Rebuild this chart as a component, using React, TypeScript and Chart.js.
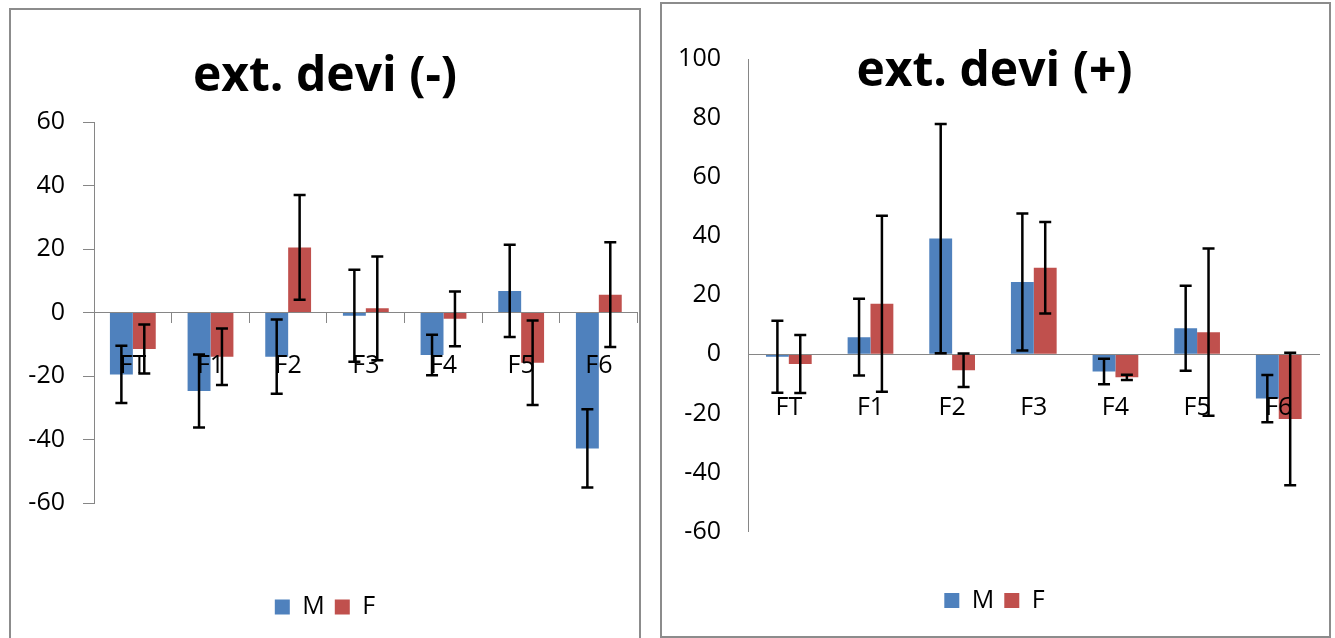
import React, { useEffect, useRef } from 'react';
import { Chart, registerables } from 'chart.js';

Chart.register(...registerables);

// ---------- data ----------
const categories = ['FT', 'F1', 'F2', 'F3', 'F4', 'F5', 'F6'];
const seriesNames = ['M', 'F'];

const minusTitle = 'ext. devi (-)';
const minusM = [-19.5, -24.7, -13.9, -1, -13.4, 6.8, -42.8];
const minusMErr = [9, 11.5, 11.7, 14.5, 6.4, 14.5, 12.3];
const minusF = [-11.5, -13.9, 20.5, 1.3, -2, -15.8, 5.6];
const minusFErr = [7.7, 8.9, 16.5, 16.3, 8.6, 13.3, 16.5];
const minusTicks = [-60, -40, -20, 0, 20, 40, 60];

const plusTitle = 'ext. devi (+)';
const plusM = [-0.8, 5.8, 39.2, 24.5, -5.8, 8.8, -15];
const plusMErr = [12.2, 13, 38.8, 23.2, 4.3, 14.4, 8];
const plusF = [-3.3, 17.1, -5.4, 29.3, -7.8, 7.5, -21.9];
const plusFErr = [9.8, 29.8, 5.7, 15.5, 0.9, 28.3, 22.4];
const plusTicks = [-60, -40, -20, 0, 20, 40, 60, 80, 100];

// ---------- style ----------
const BLUE = '#4F81BD';
const RED = '#C0504D';
const AXIS = '#868686';
const FONT = '"Open Sans", "Noto Sans", sans-serif';
const TEXT_SIZE = 25;
const TITLE_SIZE = 48;

const errorBarPlugin = {
  id: 'errorBars',
  afterDraw(chart: any, _args: any, opts: any) {
    const errs: number[][] = opts.errors || [];
    const ctx = chart.ctx;
    const yScale = chart.scales.y;
    ctx.save();
    ctx.strokeStyle = '#000';
    ctx.lineWidth = 2.5;
    chart.data.datasets.forEach((ds: any, i: number) => {
      const meta = chart.getDatasetMeta(i);
      meta.data.forEach((el: any, j: number) => {
        const v = ds.data[j];
        const e = errs[i] ? errs[i][j] : 0;
        const x = el.x;
        const y1 = yScale.getPixelForValue(v + e);
        const y2 = yScale.getPixelForValue(v - e);
        ctx.beginPath();
        ctx.moveTo(x, y1);
        ctx.lineTo(x, y2);
        ctx.moveTo(x - 6, y1);
        ctx.lineTo(x + 6, y1);
        ctx.moveTo(x - 6, y2);
        ctx.lineTo(x + 6, y2);
        ctx.stroke();
      });
    });
    ctx.restore();
  },
};

type Geom = {
  x: number; y: number; w: number; h: number;
  yWidth: number; padRight: number; padBottom: number;
  titleTop: number; titleBottom: number; legendGap: number;
  xTicks: boolean; xLabelPad: number; yTicks: boolean; yLabelPad: number;
  catPct: number;
};

function BarPanel(props: {
  title: string; m: number[]; mErr: number[]; f: number[]; fErr: number[];
  yTicks: number[]; geom: Geom;
}) {
  const ref = useRef<HTMLCanvasElement>(null);
  const { title, m, mErr, f, fErr, yTicks, geom } = props;
  useEffect(() => {
    const chart = new Chart(ref.current as HTMLCanvasElement, {
      type: 'bar',
      data: {
        labels: categories,
        datasets: [
          { label: seriesNames[0], data: m, backgroundColor: BLUE, borderWidth: 0, categoryPercentage: geom.catPct, barPercentage: 1 },
          { label: seriesNames[1], data: f, backgroundColor: RED, borderWidth: 0, categoryPercentage: geom.catPct, barPercentage: 1 },
        ],
      },
      options: {
        responsive: false,
        maintainAspectRatio: false,
        animation: false,
        layout: { padding: { left: 0, right: geom.padRight, top: 0, bottom: geom.padBottom } },
        plugins: {
          title: {
            display: true,
            text: title,
            color: '#000',
            font: { family: FONT, size: TITLE_SIZE, weight: 'bold' },
            padding: { top: geom.titleTop, bottom: geom.titleBottom },
          },
          legend: {
            position: 'bottom',
            title: { display: true, text: '', font: { size: 10 }, padding: { top: 0, bottom: geom.legendGap } },
            labels: { boxWidth: 15, boxHeight: 15, padding: 10, color: '#000', font: { family: FONT, size: TEXT_SIZE } },
          },
          tooltip: { enabled: false },
          errorBars: { errors: [mErr, fErr] },
        } as any,
        scales: {
          x: {
            position: { y: 0 } as any,
            grid: { drawOnChartArea: false, drawTicks: geom.xTicks, tickLength: 10, color: AXIS, offset: true },
            border: { color: AXIS, z: 1 },
            ticks: { z: 1, padding: geom.xLabelPad, color: '#000', font: { family: FONT, size: TEXT_SIZE } },
          },
          y: {
            min: yTicks[0],
            max: yTicks[yTicks.length - 1],
            ticks: { stepSize: yTicks[1] - yTicks[0], padding: geom.yLabelPad, color: '#000', font: { family: FONT, size: TEXT_SIZE } },
            grid: { drawOnChartArea: false, drawTicks: geom.yTicks, tickLength: 11, color: AXIS },
            border: { color: AXIS },
            afterFit: (s: any) => { s.width = geom.yWidth; },
          },
        },
      },
      plugins: [errorBarPlugin],
    } as any);
    return () => chart.destroy();
  }, []);
  return (
    <canvas
      ref={ref}
      width={geom.w}
      height={geom.h}
      style={{ position: 'absolute', left: geom.x, top: geom.y, width: geom.w, height: geom.h }}
    />
  );
}

const leftGeom: Geom = {
  x: 10, y: 10, w: 631, h: 628,
  yWidth: 84, padRight: 1, padBottom: 8.5,
  titleTop: 38.7, titleBottom: 15.7, legendGap: 69.5,
  xTicks: true, xLabelPad: 28.5, yTicks: true, yLabelPad: 18,
  catPct: 0.59,
};

const rightGeom: Geom = {
  x: 660, y: 3, w: 671, h: 633,
  yWidth: 88, padRight: 2, padBottom: 13,
  titleTop: 40.7, titleBottom: -42.3, legendGap: 34.5,
  xTicks: false, xLabelPad: 38.5, yTicks: false, yLabelPad: 27,
  catPct: 0.56,
};

export default function App() {
  return (
    <div style={{ position: 'fixed', left: 0, top: 0, width: 1335, height: 638, overflow: 'hidden', background: '#fff' }}>
      <BarPanel title={minusTitle} m={minusM} mErr={minusMErr} f={minusF} fErr={minusFErr} yTicks={minusTicks} geom={leftGeom} />
      <BarPanel title={plusTitle} m={plusM} mErr={plusMErr} f={plusF} fErr={plusFErr} yTicks={plusTicks} geom={rightGeom} />
      <div style={{ position: 'absolute', left: 9, top: 8, width: 632, height: 660, boxSizing: 'border-box', border: '2px solid #8c8c8c', pointerEvents: 'none' }} />
      <div style={{ position: 'absolute', left: 660, top: 2, width: 671, height: 636, boxSizing: 'border-box', border: '2px solid #8c8c8c', pointerEvents: 'none' }} />
    </div>
  );
}
